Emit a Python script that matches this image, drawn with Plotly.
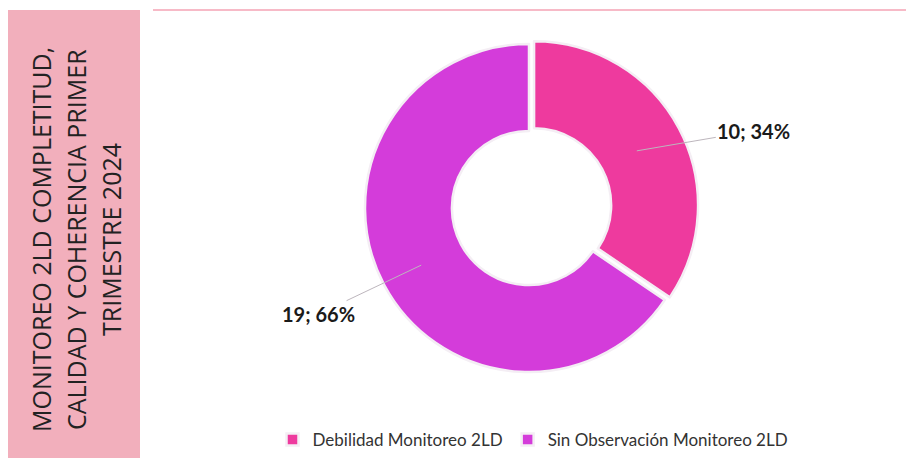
import math
import plotly.graph_objects as go

categories = ["Debilidad Monitoreo 2LD", "Sin Observación Monitoreo 2LD"]
values = [10, 19]
colors = ["#EE3A9E", "#D43CDA"]
pulls = [0.035, 0.0]
title_lines = ["MONITOREO 2LD COMPLETITUD,", "CALIDAD Y COHERENCIA PRIMER", "TRIMESTRE 2024"]

# figure size (page body adds an 8px margin on the left/top)
W, H = 906, 451
OFF = 8


def px(x):
    return (x - OFF) / W


def py(y):
    return 1 - (y - OFF) / H


# donut geometry (screen px)
CX, CY, R = 529, 208, 164
D = 2 * R * (1 + max(pulls))

fig = go.Figure()
fig.add_trace(go.Pie(
    labels=categories,
    values=values,
    hole=0.47,
    sort=False,
    direction="clockwise",
    rotation=0,
    pull=pulls,
    marker=dict(colors=colors, line=dict(color="#F4EEF4", width=2.5)),
    textinfo="none",
    hoverinfo="label+value+percent",
    domain=dict(x=[px(CX - D / 2), px(CX + D / 2)], y=[py(CY + D / 2), py(CY - D / 2)]),
    showlegend=True,
))

# data labels with leader lines, anchored at each slice's mid angle
total = sum(values)
offsets = [(117, -20), (-103, 49)]
cum = 0
for v, (ax, ay) in zip(values, offsets):
    mid = (cum + v / 2) / total * 2 * math.pi
    cum += v
    rr = 122
    x = CX + rr * math.sin(mid)
    y = CY - rr * math.cos(mid)
    fig.add_annotation(
        x=px(x), y=py(y), xref="paper", yref="paper",
        text=f"{v}; {round(100 * v / total)}%",
        showarrow=True, arrowhead=0, arrowwidth=1, arrowcolor="#BDB6BD",
        ax=ax, ay=ay, standoff=0,
        font=dict(family="Lato", size=20, color="#1A1A1A", weight="bold"),
    )

# left title panel
fig.add_shape(type="rect", xref="paper", yref="paper",
              x0=px(8), x1=px(140), y0=py(458), y1=py(10),
              fillcolor="#F2AFBC", line=dict(width=0), layer="below")
# top thin line
fig.add_shape(type="line", xref="paper", yref="paper",
              x0=px(153), x1=1, y0=py(10), y1=py(10),
              line=dict(color="#F5A3B5", width=1.5))

for i, line in enumerate(title_lines):
    fig.add_annotation(text=line, xref="paper", yref="paper",
                       x=px(41 + 35 * i), y=py(240), showarrow=False, textangle=-90,
                       xanchor="center", yanchor="middle",
                       font=dict(family="Open Sans", size=25, color="#222222"))

fig.update_layout(
    width=W, height=H,
    margin=dict(l=0, r=0, t=0, b=0),
    paper_bgcolor="white",
    plot_bgcolor="white",
    legend=dict(orientation="h", x=px(533), xanchor="center", y=py(440), yanchor="middle",
                font=dict(family="Lato", size=17, color="#333333"),
                itemwidth=30, traceorder="normal"),
)

fig.write_html("out.html")
